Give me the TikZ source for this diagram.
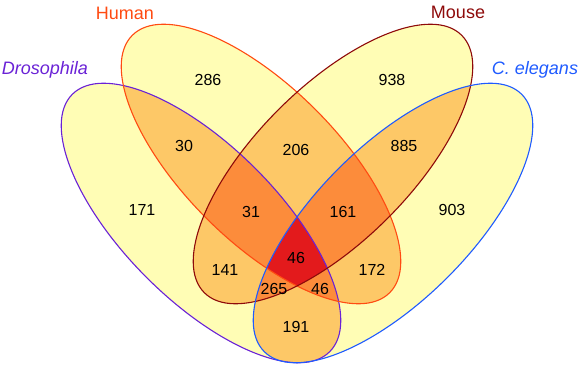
\documentclass[tikz,border=0pt]{standalone}
\usepackage{fontspec}
\setmainfont{Liberation Sans}
\usepackage{xcolor}
\usepackage{tikz}

\definecolor{lvlone}{HTML}{FFFDB5}
\definecolor{lvltwo}{HTML}{FDC867}
\definecolor{lvlthree}{HTML}{FC8C3B}
\definecolor{lvlfour}{HTML}{E31A1C}
\definecolor{drocol}{HTML}{6A22D6}
\definecolor{humcol}{HTML}{FF4B12}
\definecolor{moucol}{HTML}{8E0A0A}
\definecolor{celcol}{HTML}{1F5BFF}

\begin{document}
\begin{tikzpicture}
  [x=1pt,y=1pt,
  every node/.style={font=\fontsize{16}{18}\selectfont},
  setname/.style={font=\fontsize{18}{20}\selectfont}]

\useasboundingbox (0,0) rectangle (580,367);

\coordinate (dro) at (201,144);
\coordinate (hum) at (261,203);
\coordinate (mou) at (333,203);
\coordinate (cel) at (393,144);

\def\pD{[rotate around={-45:(dro)}] (dro) ellipse [x radius=182, y radius=77]}
\def\pH{[rotate around={-45:(hum)}] (hum) ellipse [x radius=182, y radius=77]}
\def\pM{[rotate around={45:(mou)}] (mou) ellipse [x radius=182, y radius=77]}
\def\pC{[rotate around={45:(cel)}] (cel) ellipse [x radius=182, y radius=77]}

% one set
\fill[lvlone] \pD; \fill[lvlone] \pH; \fill[lvlone] \pM; \fill[lvlone] \pC;

% two sets
\begin{scope}\clip \pD; \fill[lvltwo] \pH; \fill[lvltwo] \pM; \fill[lvltwo] \pC; \end{scope}
\begin{scope}\clip \pH; \fill[lvltwo] \pM; \fill[lvltwo] \pC; \end{scope}
\begin{scope}\clip \pM; \fill[lvltwo] \pC; \end{scope}

% three sets
\begin{scope}\clip \pD; \clip \pH; \fill[lvlthree] \pM; \fill[lvlthree] \pC; \end{scope}
\begin{scope}\clip \pD; \clip \pM; \fill[lvlthree] \pC; \end{scope}
\begin{scope}\clip \pH; \clip \pM; \fill[lvlthree] \pC; \end{scope}

% all four
\begin{scope}\clip \pD; \clip \pH; \clip \pM; \fill[lvlfour] \pC; \end{scope}

% outlines
\draw[drocol,line width=1.1pt] \pD;
\draw[humcol,line width=1.1pt] \pH;
\draw[moucol,line width=1.1pt] \pM;
\draw[celcol,line width=1.1pt] \pC;

% set names
\node[setname,text=drocol] (dname) at (45,297) {\itshape Drosophila};
\node[setname,text=humcol] (hname) at (125,354) {Human};
\node[setname,text=moucol] (mname) at (458,355) {Mouse};
\node[setname,text=celcol] (cname) at (535,297) {\itshape C. elegans};

% counts
\node (n286) at (208,287) {286};
\node (n30)  at (184,221) {30};
\node (n171) at (142,157) {171};
\node (n206) at (296,217) {206};
\node (n938) at (392,287) {938};
\node (n885) at (404,221) {885};
\node (n903) at (452,157) {903};
\node (n31)  at (251,155) {31};
\node (n161) at (343,155) {161};
\node (n141) at (225,97)  {141};
\node (nall) at (296,109) {46};
\node (n172) at (372,97)  {172};
\node (n265) at (274,78)  {265};
\node (n46)  at (320,78)  {46};
\node (n191) at (296,40)  {191};
\end{tikzpicture}
\end{document}
